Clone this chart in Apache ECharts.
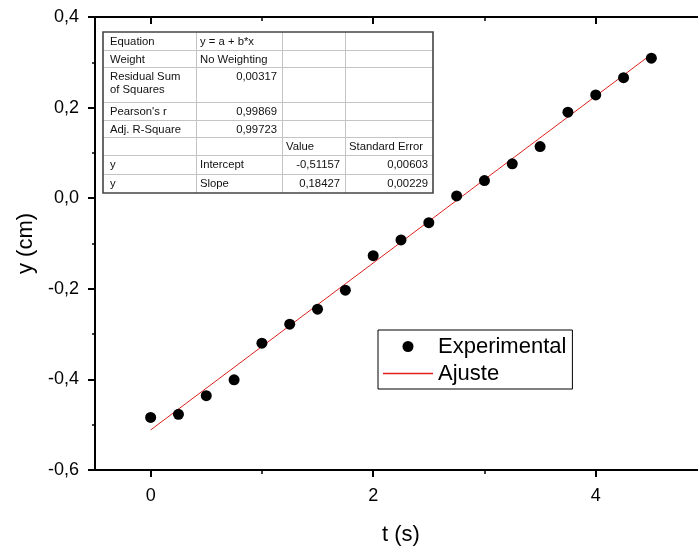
<!DOCTYPE html>
<html><head><meta charset="utf-8">
<script src="https://cdn.jsdelivr.net/npm/echarts@6/dist/echarts.min.js"></script>
<style>html,body{margin:0;padding:0;background:#fff}#c{width:698px;height:547px}</style>
</head><body><div id="c"></div>
<script>
// ---- data ----
const tValues = [0, 0.25, 0.5, 0.75, 1, 1.25, 1.5, 1.75, 2, 2.25, 2.5, 2.75, 3, 3.25, 3.5, 3.75, 4, 4.25, 4.5];
const yValues = [-0.484, -0.477, -0.436, -0.401, -0.320, -0.278, -0.245, -0.203, -0.127, -0.092, -0.054, 0.005, 0.039, 0.076, 0.114, 0.190, 0.228, 0.266, 0.309];
const fitT = [0, 4.5];
const fitY = [-0.5116, 0.3176];
const seriesNames = ['Experimental', 'Ajuste'];
const xMajorTicks = [0, 2, 4];
const xMinorTicks = [1, 3];
const tableRows = [
  ['Equation', 'y = a + b*x', '', ''],
  ['Weight', 'No Weighting', '', ''],
  ['Residual Sum\nof Squares', '0,00317', '', ''],
  ["Pearson's r", '0,99869', '', ''],
  ['Adj. R-Square', '0,99723', '', ''],
  ['', '', 'Value', 'Standard Error'],
  ['y', 'Intercept', '-0,51157', '0,00603'],
  ['y', 'Slope', '0,18427', '0,00229']
];

// ---- layout ----
const FONT = "'Liberation Sans', Arial, sans-serif";
const RED = '#e0201e';
const colEdges = [103, 196, 282, 345, 433];
const rowEdges = [32, 50, 67, 102, 120, 137, 155, 174, 193];

function buildTable() {
  const children = [];
  const L = colEdges[0], R = colEdges[colEdges.length - 1];
  const T = rowEdges[0], B = rowEdges[rowEdges.length - 1];
  children.push({type: 'rect', shape: {x: L, y: T, width: R - L, height: B - T},
    style: {fill: '#fff', stroke: 'none'}});
  for (let i = 1; i < rowEdges.length - 1; i++) {
    children.push({type: 'line', shape: {x1: L, y1: rowEdges[i] + 0.5, x2: R, y2: rowEdges[i] + 0.5},
      style: {stroke: '#c4c4c4', lineWidth: 1}});
  }
  for (let j = 1; j < colEdges.length - 1; j++) {
    children.push({type: 'line', shape: {x1: colEdges[j] + 0.5, y1: T, x2: colEdges[j] + 0.5, y2: B},
      style: {stroke: '#c4c4c4', lineWidth: 1}});
  }
  children.push({type: 'rect', shape: {x: L, y: T, width: R - L, height: B - T},
    style: {fill: 'none', stroke: '#444', lineWidth: 1.6}});
  tableRows.forEach((row, i) => {
    row.forEach((txt, j) => {
      if (!txt) return;
      const numeric = /^-?\d/.test(txt);
      children.push({type: 'text', style: {
        text: txt,
        x: numeric ? colEdges[j + 1] - 5 : colEdges[j] + (j === 0 ? 7 : 4),
        y: rowEdges[i] + 3,
        align: numeric ? 'right' : 'left',
        verticalAlign: 'top',
        fontSize: 11.3, fontFamily: FONT, lineHeight: 13.5,
        fill: '#111'
      }});
    });
  });
  return {type: 'group', z: 100, children};
}

const chart = echarts.init(document.getElementById('c'));
const baseX = {type: 'value', min: -0.5, max: 5, splitLine: {show: false}};
chart.setOption({
  animation: false,
  backgroundColor: '#fff',
  textStyle: {fontFamily: FONT},
  grid: {left: 95, right: -9, top: 17, bottom: 77, containLabel: false, outerBoundsMode: 'none'},
  legend: {
    orient: 'vertical', left: 378, top: 330,
    data: [
      {name: seriesNames[0], icon: 'circle', itemStyle: {color: '#000', opacity: 1}},
      {name: seriesNames[1], icon: 'path://M0,0L48,0L48,1.4L0,1.4Z',
        itemStyle: {color: RED, borderColor: RED, borderWidth: 0, opacity: 1}}
    ],
    itemWidth: 50, itemHeight: 11, itemGap: 2,
    padding: [4, 6, 3, 5],
    borderColor: '#000', borderWidth: 1, backgroundColor: '#fff',
    selectedMode: false,
    textStyle: {fontSize: 22, color: '#000', lineHeight: 25, fontFamily: FONT}
  },
  xAxis: [
    Object.assign({}, baseX, {
      position: 'bottom',
      name: 't (s)', nameLocation: 'middle', nameGap: 54,
      nameTextStyle: {fontSize: 22, color: '#000', fontFamily: FONT},
      axisLine: {onZero: false, lineStyle: {color: '#000', width: 2}},
      axisTick: {customValues: xMajorTicks, length: 7, lineStyle: {color: '#000', width: 2}},
      axisLabel: {customValues: xMajorTicks, margin: 17, fontSize: 18, color: '#000', fontFamily: FONT,
        formatter: v => String(v)}
    }),
    Object.assign({}, baseX, {
      position: 'bottom',
      axisLine: {show: false, onZero: false},
      axisTick: {customValues: xMinorTicks, length: 4, lineStyle: {color: '#000', width: 1.5}},
      axisLabel: {show: false}
    }),
    Object.assign({}, baseX, {
      position: 'top',
      axisLine: {onZero: false, lineStyle: {color: '#000', width: 2}},
      axisTick: {inside: true, customValues: xMajorTicks, length: 7, lineStyle: {color: '#000', width: 2}},
      axisLabel: {show: false}
    }),
    Object.assign({}, baseX, {
      position: 'top',
      axisLine: {show: false, onZero: false},
      axisTick: {inside: true, customValues: xMinorTicks, length: 4, lineStyle: {color: '#000', width: 1.5}},
      axisLabel: {show: false}
    })
  ],
  yAxis: {
    type: 'value', min: -0.6, max: 0.4, interval: 0.2,
    name: 'y (cm)', nameLocation: 'middle', nameGap: 58,
    nameTextStyle: {fontSize: 22, color: '#000', fontFamily: FONT},
    axisLine: {onZero: false, lineStyle: {color: '#000', width: 2}},
    axisTick: {length: 7, lineStyle: {color: '#000', width: 2}},
    minorTick: {show: true, splitNumber: 2, length: 3, lineStyle: {color: '#000', width: 1.5}},
    splitLine: {show: false},
    axisLabel: {margin: 16, fontSize: 18, color: '#000', fontFamily: FONT,
      formatter: v => v.toFixed(1).replace('.', ',')}
  },
  series: [
    {
      name: seriesNames[0], type: 'scatter', xAxisIndex: 0,
      data: tValues.map((t, i) => [t, yValues[i]]),
      symbol: 'circle', symbolSize: 11,
      itemStyle: {color: '#000', opacity: 1}, z: 3
    },
    {
      name: seriesNames[1], type: 'line', xAxisIndex: 0,
      data: fitT.map((t, i) => [t, fitY[i]]),
      symbol: 'none',
      color: RED,
      itemStyle: {color: RED},
      lineStyle: {color: RED, width: 1}, z: 2
    }
  ],
  graphic: [buildTable()]
});
</script>
</body></html>
